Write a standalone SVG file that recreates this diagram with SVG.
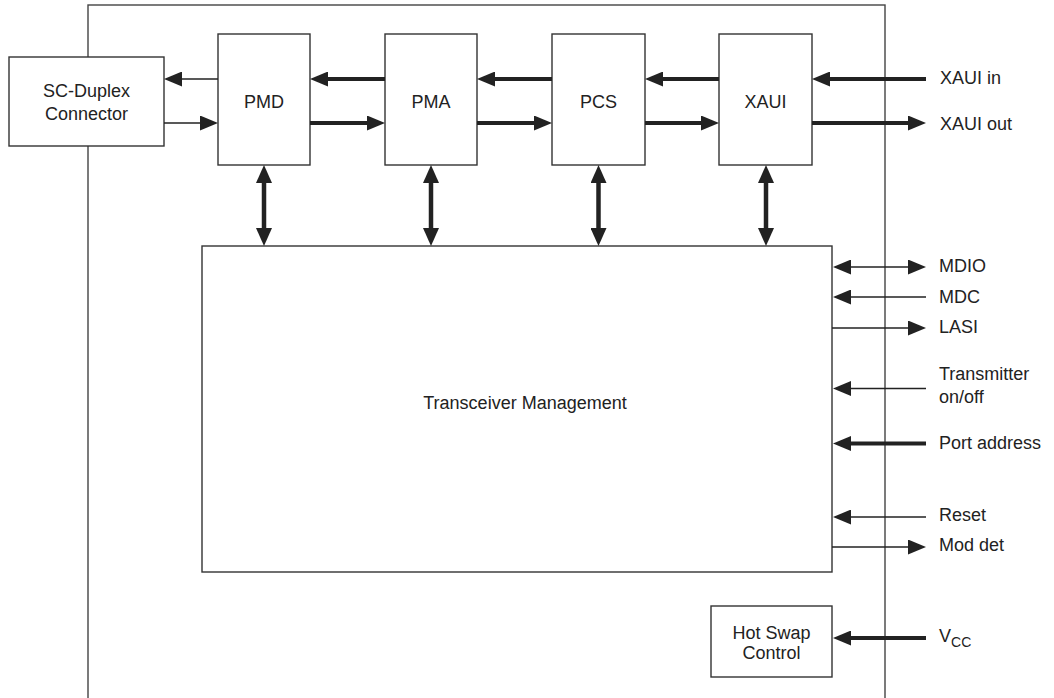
<svg xmlns="http://www.w3.org/2000/svg" width="1054" height="698" viewBox="0 0 1054 698">
<style>
.box{fill:#fff;stroke:#333;stroke-width:1.4}
.outer{fill:none;stroke:#444;stroke-width:1.4}
.t{font-family:"Liberation Sans",Arial,sans-serif;font-size:18px;fill:#222}
.m{text-anchor:middle}
.thin{stroke:#222;stroke-width:1.3;fill:none}
.thick{stroke:#222;stroke-width:4;fill:none}
.vthick{stroke:#222;stroke-width:4.5;fill:none}
</style>
<defs>
<marker id="ah" markerUnits="userSpaceOnUse" viewBox="0 0 18 15" refX="10" refY="7.5" markerWidth="18" markerHeight="15" orient="auto-start-reverse">
<path d="M0,0 L18,7.5 L0,15 Z" fill="#222"/>
</marker>
<marker id="av" markerUnits="userSpaceOnUse" viewBox="0 0 18 16" refX="10" refY="8" markerWidth="18" markerHeight="16" orient="auto-start-reverse">
<path d="M0,0 L18,8 L0,16 Z" fill="#222"/>
</marker>
</defs>
<rect width="1054" height="698" fill="#fff"/>
<g id="module"><rect class="outer" x="88" y="5" width="797" height="720"/></g>
<g id="sc"><rect class="box" x="9" y="57" width="155" height="89"/>
<text class="t m" x="86.5" y="96.5">SC-Duplex</text><text class="t m" x="86.5" y="120">Connector</text></g>
<g id="pmd"><rect class="box" x="218" y="34" width="92" height="131"/><text class="t m" x="264" y="107.5">PMD</text></g>
<g id="pma"><rect class="box" x="385" y="34" width="92" height="131"/><text class="t m" x="431" y="107.5">PMA</text></g>
<g id="pcs"><rect class="box" x="552" y="34" width="93" height="131"/><text class="t m" x="598.5" y="107.5">PCS</text></g>
<g id="xaui"><rect class="box" x="719" y="34" width="93" height="131"/><text class="t m" x="765.5" y="107.5">XAUI</text></g>
<g id="mgmt"><rect class="box" x="202" y="246" width="630" height="326"/><text class="t m" x="525" y="408.5">Transceiver Management</text></g>
<g id="hotswap"><rect class="box" x="711" y="606" width="121" height="71"/>
<text class="t m" x="771.5" y="638.5">Hot Swap</text><text class="t m" x="771.5" y="658.5">Control</text></g>
<g id="connectors">
<line class="thin" x1="218" y1="79" x2="172" y2="79" marker-end="url(#ah)"/>
<line class="thin" x1="164" y1="123" x2="210" y2="123" marker-end="url(#ah)"/>
<line class="thick" x1="385" y1="79" x2="318" y2="79" marker-end="url(#ah)"/>
<line class="thick" x1="310" y1="123" x2="377" y2="123" marker-end="url(#ah)"/>
<line class="thick" x1="552" y1="79" x2="485" y2="79" marker-end="url(#ah)"/>
<line class="thick" x1="477" y1="123" x2="544" y2="123" marker-end="url(#ah)"/>
<line class="thick" x1="719" y1="79" x2="653" y2="79" marker-end="url(#ah)"/>
<line class="thick" x1="645" y1="123" x2="711" y2="123" marker-end="url(#ah)"/>
<line class="thick" x1="926" y1="79" x2="820" y2="79" marker-end="url(#ah)"/>
<line class="thick" x1="812" y1="123" x2="918" y2="123" marker-end="url(#ah)"/>
<line class="vthick" x1="264" y1="173" x2="264" y2="238" marker-start="url(#av)" marker-end="url(#av)"/>
<line class="vthick" x1="431" y1="173" x2="431" y2="238" marker-start="url(#av)" marker-end="url(#av)"/>
<line class="vthick" x1="598.5" y1="173" x2="598.5" y2="238" marker-start="url(#av)" marker-end="url(#av)"/>
<line class="vthick" x1="766" y1="173" x2="766" y2="238" marker-start="url(#av)" marker-end="url(#av)"/>
<line class="thin" x1="841" y1="267" x2="918" y2="267" marker-start="url(#ah)" marker-end="url(#ah)"/>
<line class="thin" x1="926" y1="297" x2="841" y2="297" marker-end="url(#ah)"/>
<line class="thin" x1="832" y1="328" x2="918" y2="328" marker-end="url(#ah)"/>
<line class="thin" x1="926" y1="388.5" x2="841" y2="388.5" marker-end="url(#ah)"/>
<line class="thick" x1="926" y1="443.5" x2="841" y2="443.5" marker-end="url(#ah)"/>
<line class="thin" x1="926" y1="517" x2="841" y2="517" marker-end="url(#ah)"/>
<line class="thin" x1="832" y1="547" x2="918" y2="547" marker-end="url(#ah)"/>
<line class="thick" x1="926" y1="638" x2="841" y2="638" marker-end="url(#ah)"/>
</g>
<g id="labels">
<text class="t" x="940" y="83.5">XAUI in</text>
<text class="t" x="940" y="130">XAUI out</text>
<text class="t" x="939" y="272">MDIO</text>
<text class="t" x="939" y="302.5">MDC</text>
<text class="t" x="939" y="332.5">LASI</text>
<text class="t" x="939" y="380">Transmitter</text>
<text class="t" x="939" y="403">on/off</text>
<text class="t" x="939" y="448.5">Port address</text>
<text class="t" x="939" y="521">Reset</text>
<text class="t" x="939" y="551">Mod det</text>
<text class="t" x="939" y="641.5">V<tspan font-size="14" dy="5">CC</tspan></text>
</g>
</svg>
